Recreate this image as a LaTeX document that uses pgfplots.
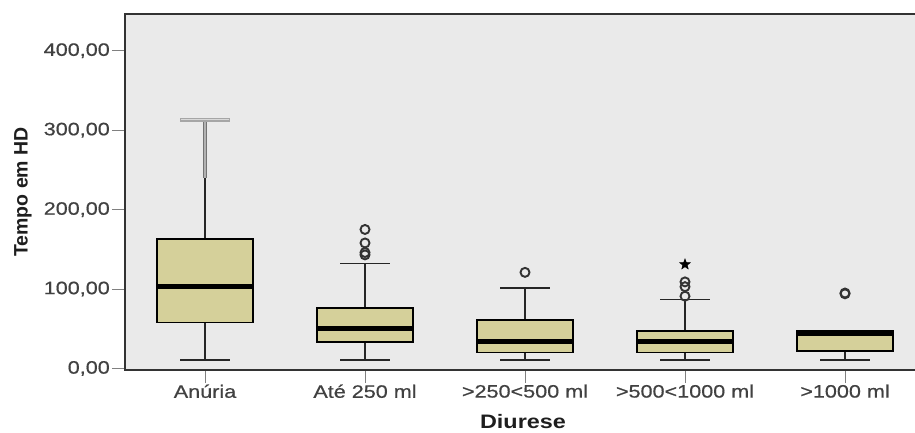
\documentclass[border=0pt]{standalone}
\usepackage{fontspec}
\setmainfont{Liberation Sans}
\newfontfamily\wide{Liberation Sans}[FakeStretch=1.2, FakeBold=0.5]
\newfontfamily\widelab{Liberation Sans}[FakeStretch=1.2]
\usepackage{pgfplots}
\pgfplotsset{compat=1.18}
\definecolor{boxfill}{RGB}{213,208,154}
\definecolor{bgc}{RGB}{234,234,234}
\definecolor{tickc}{RGB}{65,65,65}
\definecolor{labc}{RGB}{30,30,30}
\pgfdeclareplotmark{fstar}{%
  \pgfpathmoveto{\pgfqpointpolar{90}{\pgfplotmarksize}}%
  \pgfpathlineto{\pgfqpointpolar{126}{0.42\pgfplotmarksize}}%
  \pgfpathlineto{\pgfqpointpolar{162}{\pgfplotmarksize}}%
  \pgfpathlineto{\pgfqpointpolar{198}{0.42\pgfplotmarksize}}%
  \pgfpathlineto{\pgfqpointpolar{234}{\pgfplotmarksize}}%
  \pgfpathlineto{\pgfqpointpolar{270}{0.42\pgfplotmarksize}}%
  \pgfpathlineto{\pgfqpointpolar{306}{\pgfplotmarksize}}%
  \pgfpathlineto{\pgfqpointpolar{342}{0.42\pgfplotmarksize}}%
  \pgfpathlineto{\pgfqpointpolar{18}{\pgfplotmarksize}}%
  \pgfpathlineto{\pgfqpointpolar{54}{0.42\pgfplotmarksize}}%
  \pgfpathclose
  \pgfusepathqfillstroke}
% #1 position, #2 lower whisker, #3 lower quartile, #4 median, #5 upper quartile, #6 upper whisker
\newcommand\bxp[6]{%
  \addplot[draw=black!85, line width=1.6pt] coordinates {(#1,#3) (#1,#2)};
  \addplot[draw=black!85, line width=1.6pt] coordinates {({#1-0.155},#2) ({#1+0.155},#2)};
  \addplot[draw=black!85, line width=1.6pt] coordinates {(#1,#5) (#1,#6)};
  \addplot[draw=black!85, line width=1.6pt] coordinates {({#1-0.155},#6) ({#1+0.155},#6)};
  \addplot[fill=boxfill, draw=black, line width=1.6pt] coordinates {({#1-0.3},#3) ({#1+0.3},#3) ({#1+0.3},#5) ({#1-0.3},#5)} -- cycle;
  \addplot[draw=black, line width=5pt] coordinates {({#1-0.3},#4) ({#1+0.3},#4)};
}
\begin{document}
\begin{tikzpicture}
\useasboundingbox (0pt,0pt) rectangle (915pt,432pt);
\begin{axis}[
  at={(125pt,62pt)}, anchor=south west,
  scale only axis, width=800pt, height=356pt,
  xmin=-0.5, xmax=4.5, ymin=-1.9, ymax=446.2,
  axis background/.style={fill=bgc},
  axis line style={draw=black!80, line width=1.5pt},
  xtick={0,1,2,3,4},
  xticklabels={Anúria, Até 250 ml, >250<500 ml, >500<1000 ml, >1000 ml},
  ytick={0,100,200,300,400},
  yticklabels={{0,00}, {100,00}, {200,00}, {300,00}, {400,00}},
  ticklabel style={font=\wide\fontsize{18}{20}\selectfont, text=tickc},
  yticklabel style={inner sep=2pt},
  xticklabel style={yshift=2pt},
  tick align=outside, major tick length=13pt,
  tick style={draw=gray, line width=1pt},
  xtick pos=bottom, ytick pos=left,
  xlabel={Diurese}, ylabel={Tempo em HD},
  xlabel style={font=\widelab\bfseries\fontsize{19.5}{22}\selectfont, text=labc, at={(axis description cs:0.4975,0)}, anchor=center, yshift=-52pt},
  ylabel style={font=\bfseries\fontsize{19.5}{22}\selectfont, text=labc, at={(axis description cs:-0.1275,0.5)}, anchor=center},
  clip=false,
]
\bxp{0}{11}{58}{103}{163}{313}
\addplot[draw=black!55, line width=4.5pt] coordinates {(0,240) (0,313)};
\addplot[draw=black!30, line width=1.3pt] coordinates {(0,240) (0,312)};
\addplot[draw=black!35, line width=3.5pt] coordinates {(-0.155,313) (0.155,313)};
\addplot[draw=black!15, line width=1pt] coordinates {(-0.15,313) (0.15,313)};
\bxp{1}{11}{33.5}{50}{76}{132}
\bxp{2}{11}{20}{34}{61}{101}
\bxp{3}{11}{20}{33.5}{47}{86.7}
\bxp{4}{11}{22}{44}{47}{47}
\addplot[only marks, mark=o, mark size=4.5pt, mark options={draw=black!80, fill=bgc, line width=1.9pt}] coordinates {
 (1,175) (1,158) (1,146) (1,143)
 (2,121)
 (3,91) (3,103) (3,109)
 (4,95) (4,94)
};
\addplot[only marks, mark=fstar, mark size=5.5pt, mark options={draw=black, fill=black, line width=0.5pt}] coordinates {(3,131)};
\end{axis}
\end{tikzpicture}
\end{document}
